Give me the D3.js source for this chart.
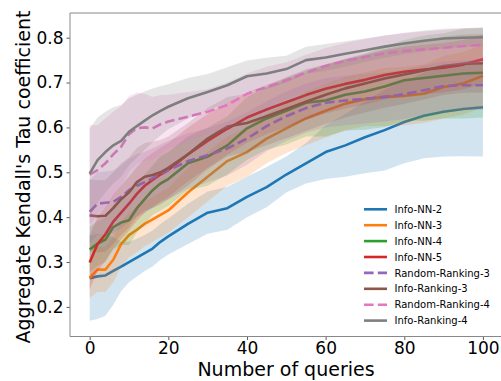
<!DOCTYPE html>
<html><head><meta charset="utf-8">
<script src="https://cdn.jsdelivr.net/npm/d3@7"></script>
<style>body{margin:0;background:#fff}svg{display:block;font-family:"DejaVu Sans",sans-serif}</style>
</head><body><svg id="c" width="501" height="381"></svg>
<script>
const queries = [0,2,4,6,8,10,12,14,16,18,20,25,30,35,40,45,50,55,60,65,70,75,80,85,90,95,100];
const seriesNames = ["Info-NN-2","Info-NN-3","Info-NN-4","Info-NN-5","Random-Ranking-3","Info-Ranking-3","Random-Ranking-4","Info-Ranking-4"];
const infoNN2 = [.264,.268,.27,.28,.29,.30,.31,.32,.33,.345,.357,.385,.41,.42,.445,.467,.495,.52,.545,.56,.578,.594,.612,.626,.635,.641,.645];
const infoNN3 = [.265,.283,.283,.305,.34,.36,.372,.385,.395,.405,.415,.455,.49,.525,.545,.575,.598,.62,.637,.653,.663,.668,.67,.675,.69,.698,.715];
const infoNN4 = [.328,.341,.35,.378,.388,.393,.42,.44,.46,.475,.485,.52,.535,.56,.598,.62,.637,.655,.66,.673,.68,.691,.705,.71,.715,.72,.722];
const infoNN5 = [.299,.34,.362,.39,.41,.43,.452,.47,.483,.495,.505,.54,.57,.597,.622,.64,.656,.672,.686,.697,.706,.717,.724,.729,.733,.74,.752];
const randomRanking3 = [.412,.43,.432,.434,.445,.46,.47,.478,.487,.497,.505,.525,.538,.553,.575,.603,.625,.643,.655,.66,.664,.668,.674,.683,.692,.694,.694];
const infoRanking3 = [.404,.402,.403,.42,.44,.455,.478,.49,.494,.5,.51,.54,.575,.602,.61,.625,.641,.657,.673,.687,.698,.709,.718,.727,.737,.742,.743];
const randomRanking4 = [.495,.505,.52,.54,.557,.585,.598,.6,.598,.607,.613,.624,.635,.65,.675,.69,.705,.722,.737,.748,.757,.765,.77,.774,.777,.781,.784];
const infoRanking4 = [.497,.527,.545,.56,.57,.59,.603,.615,.627,.637,.646,.665,.679,.694,.714,.72,.73,.75,.756,.764,.772,.78,.787,.793,.798,.8,.801];
// band half-widths (spread)
const infoNN2Spread = [.095,.095,.09,.075,.055,.045,.042,.04,.04,.04,.04,.045,.047,.048,.045,.045,.04,.045,.06,.07,.08,.09,.092,.095,.1,.105,.11];
const infoNN3Spread = [.045,.05,.05,.05,.05,.05,.05,.05,.05,.05,.05,.055,.055,.055,.055,.055,.055,.06,.06,.06,.06,.065,.065,.065,.07,.07,.07];
const infoNN4Spread = [.05,.05,.05,.05,.05,.055,.055,.055,.055,.06,.06,.06,.065,.065,.07,.07,.075,.075,.08,.08,.085,.09,.09,.095,.095,.1,.1];
const infoNN5Spread = [.06,.06,.06,.06,.06,.06,.06,.06,.06,.06,.06,.06,.06,.058,.056,.055,.055,.055,.055,.055,.055,.055,.055,.055,.055,.055,.055];
const randomRanking3Spread = [.07,.07,.07,.07,.07,.07,.07,.068,.066,.065,.065,.062,.06,.06,.058,.056,.055,.055,.055,.055,.055,.055,.055,.055,.055,.055,.055];
const infoRanking3Spread = [.08,.08,.08,.08,.08,.078,.076,.075,.074,.072,.07,.07,.068,.066,.065,.065,.065,.065,.065,.065,.065,.065,.065,.065,.065,.065,.065];
const randomRanking4Spread = [.11,.1,.1,.095,.09,.085,.08,.075,.07,.065,.06,.055,.05,.05,.045,.045,.04,.04,.04,.04,.04,.04,.04,.04,.04,.04,.04];
const infoRanking4Spread = [.1,.095,.09,.085,.08,.075,.07,.065,.06,.055,.05,.045,.04,.04,.035,.035,.03,.03,.03,.028,.026,.025,.024,.023,.022,.021,.02];
const xTicks = [0,20,40,60,80,100];
const yTicks = [0.2,0.3,0.4,0.5,0.6,0.7,0.8];

const means = [infoNN2,infoNN3,infoNN4,infoNN5,randomRanking3,infoRanking3,randomRanking4,infoRanking4];
const spreads = [infoNN2Spread,infoNN3Spread,infoNN4Spread,infoNN5Spread,randomRanking3Spread,infoRanking3Spread,randomRanking4Spread,infoRanking4Spread];
const colors = ["#1f77b4","#ff7f0e","#2ca02c","#d62728","#9467bd","#8c564b","#e377c2","#7f7f7f"];
const dashed = [false,false,false,false,true,false,true,false];

const svg = d3.select("#c");
const L = 70, R = 502.6, T = 13, B = 336.5;
const x = d3.scaleLinear().domain([-5,105]).range([L,R]);
const y = d3.scaleLinear().domain([0.134,0.855]).range([B,T]);

svg.append("defs").append("clipPath").attr("id","clip")
  .append("rect").attr("x",L).attr("y",T).attr("width",R-L).attr("height",B-T);
const g = svg.append("g").attr("clip-path","url(#clip)");

means.forEach((m,i)=>{
  const pts = queries.map((q,j)=>({q, m:m[j], s:spreads[i][j]}));
  const line = d3.line().x(d=>x(d.q)).y(d=>y(d.m));
  const area = d3.area().x(d=>x(d.q)).y0(d=>y(d.m-d.s)).y1(d=>y(d.m+d.s));
  g.append("path").attr("d",line(pts)).attr("fill","none").attr("stroke",colors[i])
    .attr("stroke-width",2.6).attr("stroke-linejoin","round")
    .attr("stroke-dasharray",dashed[i]?"9.6,4.2":null);
  g.append("path").attr("d",area(pts)).attr("fill",colors[i]).attr("fill-opacity",0.2).attr("stroke","none");
});

// axes
const xAxis = svg.append("g").attr("transform",`translate(0,${B})`)
  .call(d3.axisBottom(x).tickValues(xTicks).tickSize(3.5).tickPadding(2).tickFormat(d3.format("d")));
const yAxis = svg.append("g").attr("transform",`translate(${L},0)`)
  .call(d3.axisLeft(y).tickValues(yTicks).tickSize(3.5).tickPadding(3).tickFormat(d3.format(".1f")));
[xAxis,yAxis].forEach(a=>{
  a.select(".domain").remove();
  a.selectAll(".tick line").attr("stroke","#333").attr("stroke-width",0.8);
  a.selectAll(".tick text").attr("fill","#000").style("font-size","17px").style("font-family","DejaVu Sans");
});
// spines (right spine falls just outside the window)
svg.append("line").attr("x1",L).attr("x2",L).attr("y1",T).attr("y2",B).attr("stroke","#888").attr("stroke-width",1);
svg.append("line").attr("x1",L).attr("x2",R).attr("y1",B).attr("y2",B).attr("stroke","#888").attr("stroke-width",1);
svg.append("line").attr("x1",L).attr("x2",R).attr("y1",T).attr("y2",T).attr("stroke","#888").attr("stroke-width",1);

svg.append("text").attr("x",286).attr("y",376).attr("text-anchor","middle")
  .style("font-size","19px").text("Number of queries");
svg.append("text").attr("transform","translate(30,177) rotate(-90)").attr("text-anchor","middle")
  .style("font-size","19px").text("Aggregate Kendall's Tau coefficient");

// legend
const lg = svg.append("g");
seriesNames.forEach((n,i)=>{
  const yy = 209.3 + i*15.9;
  lg.append("line").attr("x1",364).attr("x2",387).attr("y1",yy).attr("y2",yy)
    .attr("stroke",colors[i]).attr("stroke-width",2.6)
    .attr("stroke-dasharray",dashed[i]?"9.6,4.2":null);
  lg.append("text").attr("x",394.5).attr("y",yy).attr("dy","0.36em")
    .style("font-size","10px").text(n);
});
</script></body></html>
